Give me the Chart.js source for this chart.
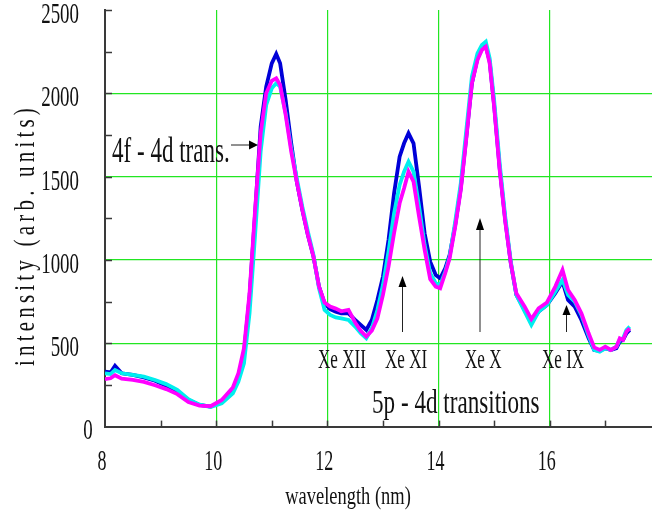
<!DOCTYPE html>
<html>
<head>
<meta charset="utf-8">
<script src="https://cdn.jsdelivr.net/npm/chart.js@4.4.1/dist/chart.umd.min.js"></script>
<style>
  body { margin: 0; background: #fff; }
  #wrap { width: 652px; height: 516px; }
</style>
</head>
<body>
<div id="wrap"><canvas id="spectrum" width="652" height="516"></canvas></div>
<script>
// wavelength grid (nm), shared by the three spectra
const wavelength = [
  8.0, 8.1, 8.18, 8.3, 8.5, 8.7, 8.9, 9.1, 9.3, 9.5, 9.7, 9.9, 10.1, 10.3, 10.4, 10.5,
  10.6, 10.7, 10.8, 10.9, 11.0, 11.08, 11.15, 11.25, 11.35, 11.45, 11.55, 11.65, 11.75,
  11.85, 11.95, 12.05, 12.15, 12.25, 12.38, 12.5, 12.6, 12.7, 12.8, 12.9, 13.0, 13.1,
  13.2, 13.3, 13.38, 13.46, 13.55, 13.65, 13.75, 13.85, 13.95, 14.03, 14.12, 14.2, 14.3,
  14.4, 14.5, 14.6, 14.7, 14.78, 14.85, 14.92, 15.0, 15.1, 15.2, 15.3, 15.4, 15.55,
  15.67, 15.8, 15.95, 16.1, 16.23, 16.33, 16.45, 16.57, 16.7, 16.8, 16.9, 17.0, 17.1,
  17.2, 17.26, 17.32, 17.38, 17.44
];

const magentaSeries = [
  285, 290, 308, 288, 280, 268, 248, 225, 195, 148, 126, 122, 160, 235, 320, 470,
  800, 1300, 1760, 2000, 2075, 2090, 2050, 1870, 1650, 1470, 1300, 1150, 1020,
  840, 745, 720, 708, 692, 700, 625, 575, 540, 575, 650, 790, 960,
  1160, 1340, 1430, 1530, 1470, 1260, 1060, 885, 840, 830, 920, 1010, 1200,
  1420, 1730, 2060, 2200, 2260, 2280, 2180, 1920, 1540, 1230, 980, 800, 720,
  645, 710, 745, 840, 940, 820, 760, 680, 560, 475, 460, 480, 460,
  480, 530, 520, 570, 590
];

const cyanSeries = [
  320, 315, 340, 320, 310, 300, 280, 255, 220, 165, 132, 118, 140, 200, 270, 380,
  680, 1150, 1650, 1930, 2030, 2060, 2040, 1880, 1670, 1490, 1320, 1170, 1030,
  830, 700, 670, 655, 650, 640, 600, 560, 530, 590, 700, 850, 1050,
  1280, 1450, 1530, 1590, 1530, 1320, 1090, 920, 860, 850, 930, 1020, 1230,
  1460, 1780, 2100, 2240, 2290, 2310, 2210, 1960, 1580, 1260, 990, 790, 690,
  610, 690, 730, 810, 880, 790, 750, 670, 545, 460, 450, 470, 460,
  480, 520, 530, 580, 600
];

const blueSeries = [
  330, 325, 365, 320, 310, 295, 275, 245, 210, 160, 130, 120, 150, 220, 300, 440,
  780, 1280, 1800, 2040, 2180, 2236, 2180, 1960, 1700, 1470, 1300, 1150, 1020,
  840, 740, 705, 690, 680, 680, 640, 610, 580, 640, 760, 900, 1120,
  1400, 1620, 1700, 1760, 1700, 1440, 1160, 990, 910, 890, 950, 1030, 1210,
  1430, 1740, 2060, 2210, 2270, 2285, 2190, 1930, 1550, 1240, 980, 790, 700,
  630, 690, 730, 800, 870, 760, 720, 640, 530, 460, 455, 470, 460,
  470, 510, 520, 560, 580
];

const xTickLabels = [8, 10, 12, 14, 16];
const yTickLabels = [0, 500, 1000, 1500, 2000, 2500];

const GRID_GREEN = "#22e622";
const AXIS_GREY = "#3a3a3a";
const SERIF = "'Liberation Serif', 'Times New Roman', serif";

function pts(ys) {
  return wavelength.map((w, i) => ({ x: w, y: ys[i] }));
}

// squeezed serif text, the original figure is horizontally compressed
function squeezedText(ctx, str, x, y, size, sx, align, base) {
  ctx.save();
  ctx.font = size + "px " + SERIF;
  ctx.fillStyle = "#111";
  ctx.textAlign = align || "left";
  ctx.textBaseline = base || "alphabetic";
  ctx.translate(x, y);
  ctx.scale(sx, 1);
  ctx.fillText(str, 0, 0);
  ctx.restore();
}

function arrow(ctx, x1, y1, x2, y2, len, half) {
  const a = Math.atan2(y2 - y1, x2 - x1);
  ctx.save();
  ctx.strokeStyle = "#222";
  ctx.fillStyle = "#000";
  ctx.lineWidth = 1;
  ctx.beginPath();
  ctx.moveTo(x1, y1);
  ctx.lineTo(x2 - Math.cos(a) * len * 0.5, y2 - Math.sin(a) * len * 0.5);
  ctx.stroke();
  ctx.beginPath();
  ctx.moveTo(x2, y2);
  ctx.lineTo(x2 - Math.cos(a) * len - Math.sin(a) * half, y2 - Math.sin(a) * len + Math.cos(a) * half);
  ctx.lineTo(x2 - Math.cos(a) * len + Math.sin(a) * half, y2 - Math.sin(a) * len - Math.cos(a) * half);
  ctx.closePath();
  ctx.fill();
  ctx.restore();
}

const decorPlugin = {
  id: "decor",
  afterDraw(chart) {
    const ctx = chart.ctx;
    const xs = chart.scales.x;
    const ys = chart.scales.y;
    const area = chart.chartArea;

    // inward minor ticks
    ctx.save();
    ctx.strokeStyle = AXIS_GREY;
    ctx.lineWidth = 1.5;
    for (let v = 250; v <= 2500; v += 250) {
      const py = Math.round(ys.getPixelForValue(v)) + 0.5;
      ctx.beginPath();
      ctx.moveTo(area.left, py);
      ctx.lineTo(area.left + 7, py);
      ctx.stroke();
    }
    for (let v = 9; v <= 17; v += 1) {
      const px = Math.round(xs.getPixelForValue(v)) + 0.5;
      ctx.beginPath();
      ctx.moveTo(px, area.bottom);
      ctx.lineTo(px, area.bottom - 6);
      ctx.stroke();
    }
    ctx.restore();

    // tick labels
    for (const v of yTickLabels) {
      const py = ys.getPixelForValue(v) + 5;
      if (v === 0) {
        squeezedText(ctx, "0", 88, py, 30, 0.63, "center", "middle");
      } else {
        squeezedText(ctx, String(v), 79, py, 30, 0.63, "right", "middle");
      }
    }
    for (const v of xTickLabels) {
      const px = xs.getPixelForValue(v) - 3;
      squeezedText(ctx, String(v), px, 462, 30, 0.6, "center", "middle");
    }

    // axis titles
    squeezedText(ctx, "wavelength (nm)", 348, 504, 26, 0.71, "center", "alphabetic");
    ctx.save();
    ctx.translate(26, 235);
    ctx.rotate(-Math.PI / 2);
    ctx.scale(0.7, 1);
    ctx.font = "30px " + SERIF;
    ctx.letterSpacing = "6px";
    ctx.fillStyle = "#111";
    ctx.textAlign = "center";
    ctx.textBaseline = "middle";
    ctx.fillText("intensity (arb. units)", 0, 0);
    ctx.restore();

    // annotations
    squeezedText(ctx, "4f - 4d trans.", 112, 162, 36, 0.64);
    arrow(ctx, 231, 145, 258, 145, 9, 4.5);

    squeezedText(ctx, "Xe XII", 318, 368, 28, 0.61);
    squeezedText(ctx, "Xe XI", 385, 368, 28, 0.61);
    squeezedText(ctx, "Xe X", 465, 368, 28, 0.61);
    squeezedText(ctx, "Xe IX", 542, 368, 28, 0.61);
    arrow(ctx, 402.5, 332, 402.5, 276, 11, 4);
    arrow(ctx, 480, 332, 480, 218, 12, 4);
    arrow(ctx, 566.5, 332, 566.5, 305, 10, 4);

    squeezedText(ctx, "5p - 4d transitions", 372, 413, 34, 0.68);
  },
};

new Chart(document.getElementById("spectrum"), {
  type: "line",
  data: {
    datasets: [
      { data: pts(magentaSeries), borderColor: "#ff00ff", order: 1 },
      { data: pts(cyanSeries), borderColor: "#00eeee", order: 2 },
      { data: pts(blueSeries), borderColor: "#0000d8", order: 3 },
    ],
  },
  options: {
    responsive: false,
    animation: false,
    devicePixelRatio: 1,
    layout: { padding: { top: 10, right: 0, left: 0, bottom: 0 } },
    elements: {
      point: { radius: 0 },
      line: { borderWidth: 3.8, tension: 0 },
    },
    plugins: {
      legend: { display: false },
      tooltip: { enabled: false },
    },
    scales: {
      x: {
        type: "linear",
        min: 8,
        max: 17.84,
        afterBuildTicks(scale) {
          scale.ticks = xTickLabels.map((v) => ({ value: v }));
        },
        afterFit(scale) {
          scale.height = 89.4;
        },
        ticks: { display: false },
        grid: {
          drawTicks: false,
          lineWidth: 1.2,
          color: (c) => (c.tick && c.tick.value === 8 ? "rgba(0,0,0,0)" : GRID_GREEN),
        },
        border: { display: true, color: AXIS_GREY, width: 2 },
      },
      y: {
        min: 0,
        max: 2500,
        afterBuildTicks(scale) {
          scale.ticks = yTickLabels.map((v) => ({ value: v }));
        },
        afterFit(scale) {
          scale.width = 105;
        },
        ticks: { display: false },
        grid: {
          drawTicks: false,
          lineWidth: 1.2,
          color: (c) =>
            c.tick && (c.tick.value === 0 || c.tick.value === 2500) ? "rgba(0,0,0,0)" : GRID_GREEN,
        },
        border: { display: true, color: AXIS_GREY, width: 2 },
      },
    },
  },
  plugins: [decorPlugin],
});
</script>
</body>
</html>
